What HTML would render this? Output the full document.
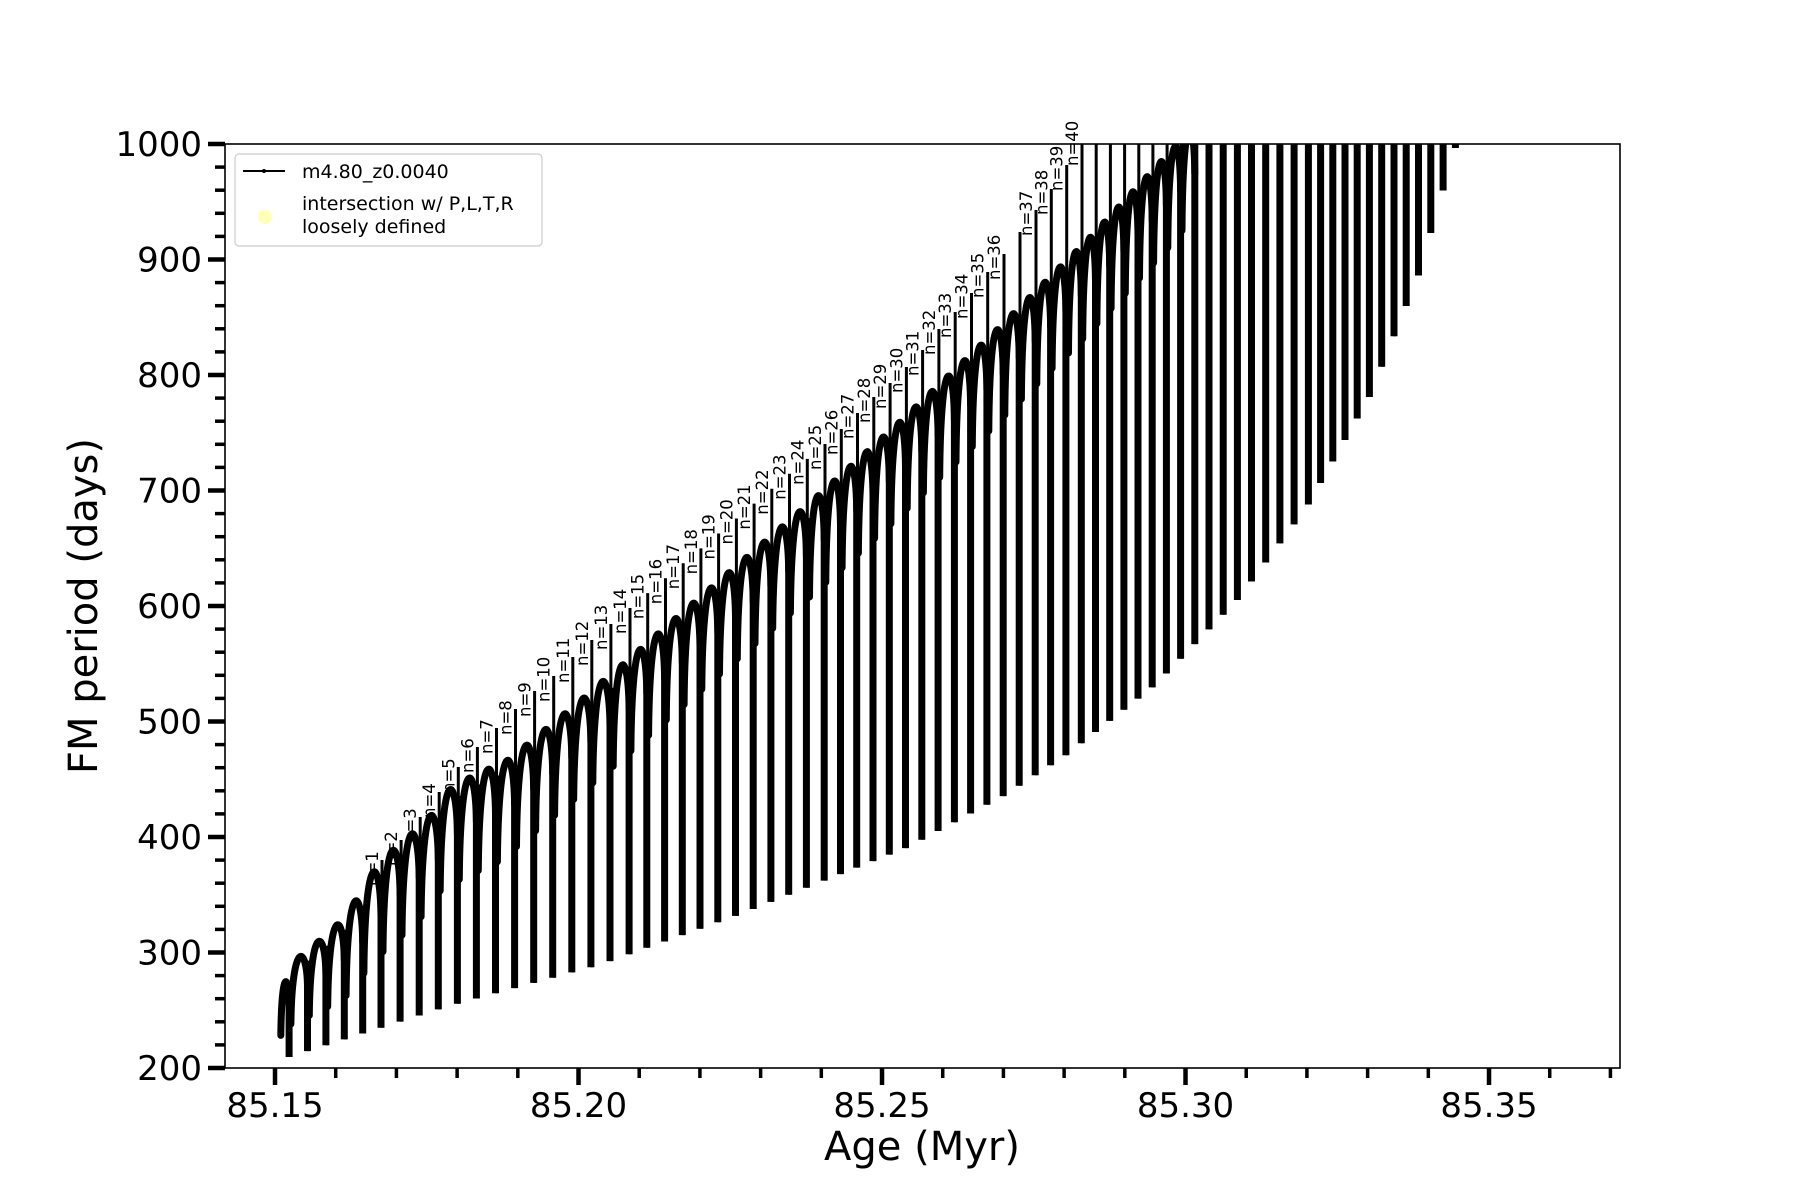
<!DOCTYPE html>
<html><head><meta charset="utf-8">
<style>
html,body{margin:0;padding:0;background:#fff;}
svg{display:block;font-family:"DejaVu Sans","Liberation Sans",sans-serif;}
</style></head>
<body>
<svg id="s" width="1800" height="1200" viewBox="0 0 1800 1200" xmlns="http://www.w3.org/2000/svg">
<defs><clipPath id="cp"><rect x="225" y="144" width="1395" height="924"/></clipPath></defs>
<rect width="1800" height="1200" fill="#fff"/>
<g id="data" clip-path="url(#cp)"></g>
<g id="labels" font-size="16.5" fill="#000"></g>
<rect x="225" y="144" width="1395" height="924" fill="none" stroke="#000" stroke-width="1.6"/>
<g id="ticks"></g>
<g font-size="34" fill="#000" id="tl"></g>
<text x="922" y="1160" font-size="40" text-anchor="middle">Age (Myr)</text>
<text transform="translate(97,606) rotate(-90)" font-size="40" text-anchor="middle">FM period (days)</text>
<g>
<rect x="235" y="154" width="307" height="92" rx="4" fill="#fff" stroke="#ccc" stroke-width="1.2"/>
<line x1="243" y1="171" x2="285" y2="171" stroke="#000" stroke-width="2"/>
<circle cx="264" cy="171" r="2" fill="#000"/>
<text x="302" y="178" font-size="19">m4.80_z0.0040</text>
<circle cx="265" cy="217" r="7" fill="#ffffb0" opacity="0.9"/>
<text x="302" y="210" font-size="19">intersection w/ P,L,T,R</text>
<text x="302" y="233" font-size="19">loosely defined</text>
</g>
</svg>
<script>
(function(){
var NS="http://www.w3.org/2000/svg";
function el(p,t,a,txt){var e=document.createElementNS(NS,t);for(var k in a)e.setAttribute(k,a[k]);if(txt!==undefined)e.textContent=txt;p.appendChild(e);return e;}
function interp(tab,x){if(x<=tab[0][0])return tab[0][1];for(var i=1;i<tab.length;i++){if(x<=tab[i][0]){var a=tab[i-1],b=tab[i];return a[1]+(b[1]-a[1])*(x-a[0])/(b[0]-a[0]);}}var a=tab[tab.length-2],b=tab[tab.length-1];return b[1]+(b[1]-a[1])*(x-b[0])/(b[0]-a[0]);}
var ticks=document.getElementById('ticks'),tl=document.getElementById('tl');
var k=6070,xmin=85.14176;
function X(v){return 225+(v-xmin)*k;}
for(var i=0;i<=22;i++){var v=85.15+i*0.01;var x=X(v);var maj=(i%5==0);
 el(ticks,'line',{x1:x,y1:1068,x2:x,y2:maj?1085:1078,stroke:'#000','stroke-width':maj?4.5:3.5});
 if(maj)el(tl,'text',{x:x,y:1117,'text-anchor':'middle'},v.toFixed(2));}
function Y(v){return 1068-(v-200)*1.155;}
for(var v=200;v<=1000;v+=20){var y=Y(v);var maj=(v%100==0);
 el(ticks,'line',{x1:225,y1:y,x2:maj?208:215,y2:y,stroke:'#000','stroke-width':maj?4.5:3.5});
 if(maj)el(tl,'text',{x:202,y:y+12,'text-anchor':'end'},String(v));}
var cx=[[0,290],[5,382],[18,630],[29,825],[40,1004],[42,1036],[45,1082],[61,1309],[66,1370],[73,1456]];
var yb=[[290,1057],[450,1006],[600,965],[739,915],[909,847],[1006,795],[1067,755],[1156,685],[1240,598],[1307,508],[1370,397],[1419,276],[1456,148]];
var yA=[[290,1000],[296,970],[316,955],[335,939],[354,922],[371,895],[388,869],[406,852],[425,836],[443,818],[461,792],[517,766],[590,706],[698,612],[805,520],[905,430],[1002,338],[1094,246],[1182,152],[1200,130]];
var st={1:860,2:840,3:817,4:792,5:767,6:747,7:728,8:709,9:691,10:676,11:657,12:640,13:624,14:608,25:444,26:429,27:413,28:397,29:383,30:367,31:350,32:329,33:312,34:293,35:272,36:254,37:210,38:189,39:165,40:140};
for(var n=15;n<=24;n++)st[n]=608+(444-608)*(n-14)/11;
var g=document.getElementById('data'),lab=document.getElementById('labels');
var d1='',d2='',d3='';
for(var c=0;c<=73;c++){
 var x=interp(cx,c),s=interp(cx,c+1)-x;if(c==73)s=12.3;
 var b=interp(yb,x),p=interp(yA,x);
 if(c==0)p=985;
 var dd=Math.min(95,0.7*(b-p));if(dd<0)dd=0;
 var xl=x-0.95*s, xr=x-0.05*s;
 if(c==0){xl=x-0.5*s;}
 if(p>120){
  d1+='M'+xl.toFixed(1)+' '+(p+dd).toFixed(1)+'C'+(xl+0.05*s).toFixed(1)+' '+(p-0.3*dd).toFixed(1)+' '+(x-0.1*s).toFixed(1)+' '+(p-0.3*dd).toFixed(1)+' '+xr.toFixed(1)+' '+(p+0.4*dd).toFixed(1);
 }
 d2+='M'+xr.toFixed(1)+' '+Math.max(p,130).toFixed(1)+'L'+xr.toFixed(1)+' '+b.toFixed(1);
 var top=p;
 var n=null;
 if(c>=5&&c<=40)n=c-4;else if(c>=42&&c<=45)n=c-5;
 if(n){top=st[n];}
 else if(c==41)top=232;
 else if(c>45)top=120;
 d3+='M'+x.toFixed(1)+' '+b.toFixed(1)+'L'+x.toFixed(1)+' '+top.toFixed(1);
 if(n){var tx=x-4,ty=top+26;el(lab,'text',{transform:'translate('+tx.toFixed(1)+','+ty.toFixed(1)+') rotate(-90)'},'n='+n);}
}
el(g,'path',{d:d3,stroke:'#000','stroke-width':3,fill:'none'});
el(g,'path',{d:d2,stroke:'#000','stroke-width':7,fill:'none'});
el(g,'path',{d:d1,stroke:'#000','stroke-width':7,fill:'none','stroke-linecap':'round'});
})();
</script>
</body></html>
